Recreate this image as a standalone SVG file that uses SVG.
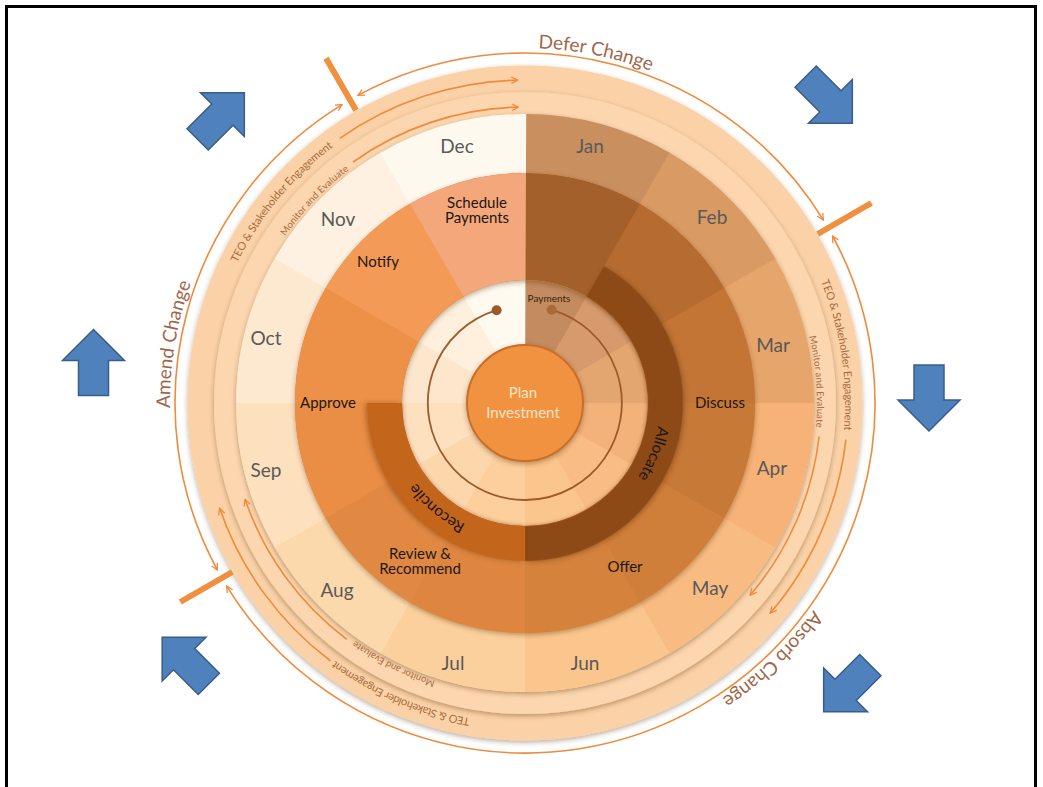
<svg xmlns="http://www.w3.org/2000/svg" width="1043" height="787" viewBox="0 0 1043 787">
  <defs>
    <style>
      text { font-family: Lato, "Open Sans", "Liberation Sans", sans-serif; }
      .mo { fill: none; stroke-width: 59; stroke-dasharray: 30.25 329.75; }
      .ac { fill: none; stroke-width: 107; stroke-dasharray: 30.25 329.75; }
      .in { fill: none; stroke-width: 65; stroke-dasharray: 30.25 329.75; }
      .bd { fill: none; stroke-width: 35; }
      .mlab { font-size: 19px; fill: #595959; text-anchor: middle; }
      .alab { font-size: 15px; fill: #1c1713; text-anchor: middle; }
      .blab { font-size: 15.5px; fill: #1c1713; }
      .ring-teo { font-size: 11px; fill: #a86b40; }
      .ring-mon { font-size: 9.5px; fill: #a86b40; }
      .chg { font-size: 19px; fill: #a0674a; }
      .line { fill: none; stroke: #f08a3c; stroke-width: 1.6; }
      .tick { stroke: #f0903f; stroke-width: 6; }
      .blue { fill: #4f81bd; stroke: #385d8a; stroke-width: 1.5; }
    </style>
    <filter id="ds" x="-20%" y="-20%" width="140%" height="140%">
      <feDropShadow dx="0" dy="2" stdDeviation="2.5" flood-color="#5a3010" flood-opacity="0.4"/>
    </filter>
    <marker id="ah" viewBox="0 0 10 10" refX="9" refY="5" markerWidth="8" markerHeight="8" markerUnits="userSpaceOnUse" orient="auto-start-reverse">
      <path d="M1,1 L9,5 L1,9" fill="none" stroke="#f08a3c" stroke-width="1.6"/>
    </marker>
    <!-- clockwise circles used as text baselines, all starting at 12 o'clock -->
    <path id="pOut" d="M525,48 A355,355 0 1 1 525,758 A355,355 0 1 1 525,48"/>
    <path id="pTeo" d="M525,83 A320,320 0 1 1 525,723 A320,320 0 1 1 525,83"/>
    <path id="pMon" d="M525,111 A292,292 0 1 1 525,695 A292,292 0 1 1 525,111"/>
    <path id="pBand" d="M525,268 A135,135 0 1 1 525,538 A135,135 0 1 1 525,268"/>
    <!-- block arrow pointing up, centred on the origin -->
    <path id="blk" d="M0,-33 L31,-2 L15,-2 L15,33 L-15,33 L-15,-2 L-31,-2 Z"/>
  </defs>

  <rect x="0" y="0" width="1043" height="787" fill="#ffffff"/>
  <rect x="6.5" y="6.5" width="1029" height="820" fill="none" stroke="#000000" stroke-width="3"/>

  <!-- outer rings -->
  <g id="ring-teo">
    <circle cx="525" cy="403" r="324" fill="none" stroke="#fbd2a7" stroke-width="27" filter="url(#ds)"/>
  </g>
  <g id="ring-monitor">
    <circle cx="525" cy="403" r="300" fill="none" stroke="#fcd6ae" stroke-width="22" filter="url(#ds)"/>
  </g>

  <!-- month ring -->
  <g id="months">
    <circle cx="525" cy="403" r="259.5" fill="none" stroke="#f6c08e" stroke-width="59" filter="url(#ds)"/>
    <g id="month-jan"><circle class="mo" cx="525" cy="403" r="259.5" pathLength="360" stroke="#c98f5f" transform="rotate(-90 525 403)"/><text class="mlab" x="590" y="153">Jan</text></g>
    <g id="month-feb"><circle class="mo" cx="525" cy="403" r="259.5" pathLength="360" stroke="#d99a63" transform="rotate(-60 525 403)"/><text class="mlab" x="712" y="224">Feb</text></g>
    <g id="month-mar"><circle class="mo" cx="525" cy="403" r="259.5" pathLength="360" stroke="#e6a56b" transform="rotate(-30 525 403)"/><text class="mlab" x="773" y="352">Mar</text></g>
    <g id="month-apr"><circle class="mo" cx="525" cy="403" r="259.5" pathLength="360" stroke="#f6b277" transform="rotate(0 525 403)"/><text class="mlab" x="772" y="475">Apr</text></g>
    <g id="month-may"><circle class="mo" cx="525" cy="403" r="259.5" pathLength="360" stroke="#f8bc82" transform="rotate(30 525 403)"/><text class="mlab" x="710" y="595">May</text></g>
    <g id="month-jun"><circle class="mo" cx="525" cy="403" r="259.5" pathLength="360" stroke="#fbc68d" transform="rotate(60 525 403)"/><text class="mlab" x="585" y="670">Jun</text></g>
    <g id="month-jul"><circle class="mo" cx="525" cy="403" r="259.5" pathLength="360" stroke="#fcd09c" transform="rotate(90 525 403)"/><text class="mlab" x="453" y="670">Jul</text></g>
    <g id="month-aug"><circle class="mo" cx="525" cy="403" r="259.5" pathLength="360" stroke="#fcd9ad" transform="rotate(120 525 403)"/><text class="mlab" x="337" y="597">Aug</text></g>
    <g id="month-sep"><circle class="mo" cx="525" cy="403" r="259.5" pathLength="360" stroke="#fde1bf" transform="rotate(150 525 403)"/><text class="mlab" x="266" y="477">Sep</text></g>
    <g id="month-oct"><circle class="mo" cx="525" cy="403" r="259.5" pathLength="360" stroke="#fde8d0" transform="rotate(180 525 403)"/><text class="mlab" x="266" y="345">Oct</text></g>
    <g id="month-nov"><circle class="mo" cx="525" cy="403" r="259.5" pathLength="360" stroke="#fef1e1" transform="rotate(210 525 403)"/><text class="mlab" x="338" y="226">Nov</text></g>
    <g id="month-dec"><circle class="mo" cx="525" cy="403" r="259.5" pathLength="360" stroke="#fef9ef" transform="rotate(240 525 403)"/><text class="mlab" x="457" y="153">Dec</text></g>
  </g>

  <!-- inner month ring around the centre -->
  <g id="inner-ring">
    <circle cx="525" cy="403" r="90.5" fill="none" stroke="#f6c594" stroke-width="65"/>
    <circle class="in" cx="525" cy="403" r="90.5" pathLength="360" stroke="#c38b5f" transform="rotate(-90 525 403)"/>
    <circle class="in" cx="525" cy="403" r="90.5" pathLength="360" stroke="#d69a6c" transform="rotate(-60 525 403)"/>
    <circle class="in" cx="525" cy="403" r="90.5" pathLength="360" stroke="#e4a670" transform="rotate(-30 525 403)"/>
    <circle class="in" cx="525" cy="403" r="90.5" pathLength="360" stroke="#f2b27a" transform="rotate(0 525 403)"/>
    <circle class="in" cx="525" cy="403" r="90.5" pathLength="360" stroke="#f8bc84" transform="rotate(30 525 403)"/>
    <circle class="in" cx="525" cy="403" r="90.5" pathLength="360" stroke="#fbc68e" transform="rotate(60 525 403)"/>
    <circle class="in" cx="525" cy="403" r="90.5" pathLength="360" stroke="#fccf9d" transform="rotate(90 525 403)"/>
    <circle class="in" cx="525" cy="403" r="90.5" pathLength="360" stroke="#fcd7ac" transform="rotate(120 525 403)"/>
    <circle class="in" cx="525" cy="403" r="90.5" pathLength="360" stroke="#fde0bd" transform="rotate(150 525 403)"/>
    <circle class="in" cx="525" cy="403" r="90.5" pathLength="360" stroke="#fde7cc" transform="rotate(180 525 403)"/>
    <circle class="in" cx="525" cy="403" r="90.5" pathLength="360" stroke="#fef0dd" transform="rotate(210 525 403)"/>
    <circle class="in" cx="525" cy="403" r="90.5" pathLength="360" stroke="#fefaf0" transform="rotate(240 525 403)"/>
  </g>

  <!-- activity ring -->
  <circle cx="525" cy="403" r="176.5" fill="none" stroke="#d27f3b" stroke-width="107" filter="url(#ds)"/>
  <g id="act-jan"><circle class="ac" cx="525" cy="403" r="176.5" pathLength="360" stroke="#a3602a" transform="rotate(-90 525 403)"/></g>
  <g id="act-feb"><circle class="ac" cx="525" cy="403" r="176.5" pathLength="360" stroke="#b66c31" transform="rotate(-60 525 403)"/></g>
  <g id="act-discuss">
    <circle class="ac" cx="525" cy="403" r="176.5" pathLength="360" stroke="#c37536" transform="rotate(-30 525 403)"/>
    <circle class="ac" cx="525" cy="403" r="176.5" pathLength="360" stroke="#c77938" transform="rotate(0 525 403)"/>
    <text class="alab" x="720" y="408">Discuss</text>
  </g>
  <g id="act-offer">
    <circle class="ac" cx="525" cy="403" r="176.5" pathLength="360" stroke="#d07f3b" transform="rotate(30 525 403)"/>
    <circle class="ac" cx="525" cy="403" r="176.5" pathLength="360" stroke="#d4823c" transform="rotate(60 525 403)"/>
    <text class="alab" x="625" y="572">Offer</text>
  </g>
  <g id="act-review">
    <circle class="ac" cx="525" cy="403" r="176.5" pathLength="360" stroke="#de8640" transform="rotate(90 525 403)"/>
    <circle class="ac" cx="525" cy="403" r="176.5" pathLength="360" stroke="#e18943" transform="rotate(120 525 403)"/>
    <text class="alab" x="420" y="559">Review &amp;</text>
    <text class="alab" x="420" y="574">Recommend</text>
  </g>
  <g id="act-approve">
    <circle class="ac" cx="525" cy="403" r="176.5" pathLength="360" stroke="#ea8e45" transform="rotate(150 525 403)"/>
    <circle class="ac" cx="525" cy="403" r="176.5" pathLength="360" stroke="#ed9148" transform="rotate(180 525 403)"/>
    <text class="alab" x="328" y="408">Approve</text>
  </g>
  <g id="act-notify">
    <circle class="ac" cx="525" cy="403" r="176.5" pathLength="360" stroke="#f29a56" transform="rotate(210 525 403)"/>
    <text class="alab" x="378" y="267">Notify</text>
  </g>
  <g id="act-schedule">
    <circle class="ac" cx="525" cy="403" r="176.5" pathLength="360" stroke="#f4a77b" transform="rotate(240 525 403)"/>
    <text class="alab" x="477" y="208">Schedule</text>
    <text class="alab" x="477" y="223">Payments</text>
  </g>

  <!-- inner bands -->
  <g id="band-allocate">
    <circle class="bd" cx="525" cy="403" r="140.5" pathLength="360" stroke="#8d4a17" stroke-dasharray="150 210" transform="rotate(-60 525 403)" filter="url(#ds)"/>
    <text class="blab"><textPath href="#pBand" startOffset="31%" text-anchor="middle">Allocate</textPath></text>
  </g>
  <g id="band-reconcile">
    <circle class="bd" cx="525" cy="403" r="140.5" pathLength="360" stroke="#c4651f" stroke-dasharray="90 270" transform="rotate(90 525 403)" filter="url(#ds)"/>
    <text class="blab"><textPath href="#pBand" startOffset="61.1%" text-anchor="middle">Reconcile</textPath></text>
  </g>

  <!-- centre -->
  <g id="plan-investment">
    <circle cx="525" cy="403" r="58" fill="#f19240" stroke="#c8702c" stroke-width="2" filter="url(#ds)"/>
    <text x="523" y="398" font-size="15" fill="#fde4c8" text-anchor="middle">Plan</text>
    <text x="523" y="418" font-size="15" fill="#fde4c8" text-anchor="middle">Investment</text>
  </g>
  <g id="payments-label">
    <text x="549" y="301.5" font-size="10" fill="#3a2410" text-anchor="middle">Payments</text>
  </g>

  <!-- ring captions -->
  <g id="ring-labels">
    <text class="ring-teo"><textPath href="#pTeo" startOffset="85.99%" text-anchor="middle" textLength="152" lengthAdjust="spacing">TEO &amp; Stakeholder Engagement</textPath></text>
    <text class="ring-teo"><textPath href="#pTeo" startOffset="22.57%" text-anchor="middle" textLength="152" lengthAdjust="spacing">TEO &amp; Stakeholder Engagement</textPath></text>
    <text class="ring-teo"><textPath href="#pTeo" startOffset="56.43%" text-anchor="middle" textLength="148" lengthAdjust="spacing">TEO &amp; Stakeholder Engagement</textPath></text>
    <text class="ring-mon"><textPath href="#pMon" startOffset="87.19%" text-anchor="middle" textLength="92" lengthAdjust="spacing">Monitor and Evaluate</textPath></text>
    <text class="ring-mon"><textPath href="#pMon" startOffset="23.83%" text-anchor="middle" textLength="92" lengthAdjust="spacing">Monitor and Evaluate</textPath></text>
    <text class="ring-mon"><textPath href="#pMon" startOffset="57.43%" text-anchor="middle" textLength="90" lengthAdjust="spacing">Monitor and Evaluate</textPath></text>
  </g>

  <!-- change labels outside the cycle -->
  <g id="defer-change"><text class="chg"><textPath href="#pOut" startOffset="3.18%" text-anchor="middle">Defer Change</textPath></text></g>
  <g id="absorb-change"><text class="chg"><textPath href="#pOut" startOffset="37.78%" text-anchor="middle">Absorb Change</textPath></text></g>
  <g id="amend-change"><text class="chg"><textPath href="#pOut" startOffset="77.64%" text-anchor="middle">Amend Change</textPath></text></g>

  <!-- connectors -->
  <g id="connectors">
    <!-- outer phase arcs, r=350 -->
    <path class="line" d="M217.4,570 A350,350 0 0 1 342.1,104.6" marker-start="url(#ah)" marker-end="url(#ah)"/>
    <path class="line" d="M358,95.4 A350,350 0 0 1 823.4,220.1" marker-start="url(#ah)" marker-end="url(#ah)"/>
    <path class="line" d="M832.6,236 A350,350 0 0 1 226.6,585.9" marker-start="url(#ah)" marker-end="url(#ah)"/>
    <!-- phase dividers -->
    <line class="tick" x1="356" y1="110.3" x2="326" y2="58.3"/>
    <line class="tick" x1="817.7" y1="234" x2="871.4" y2="203"/>
    <line class="tick" x1="232.3" y1="572" x2="180.3" y2="602"/>
    <!-- ring flow arrows -->
    <path class="line" d="M339.7,138.4 A323,323 0 0 1 517.7,80.1" marker-end="url(#ah)"/>
    <path class="line" d="M353.1,162 A296,296 0 0 1 518.3,107.1" marker-end="url(#ah)"/>
    <path class="line" d="M845.9,439.6 A323,323 0 0 1 770.2,613.2" marker-end="url(#ah)"/>
    <path class="line" d="M819.1,436.5 A296,296 0 0 1 750.1,595.2" marker-end="url(#ah)"/>
    <path class="line" d="M330.6,661 A323,323 0 0 1 219.6,508.2" marker-end="url(#ah)"/>
    <path class="line" d="M346.9,639.4 A296,296 0 0 1 245.1,499.4" marker-end="url(#ah)"/>
    <!-- payment cycle inside the centre ring -->
    <path d="M551.7,309.8 A97,97 0 1 1 496.6,310.2" fill="none" stroke="#9e5a2a" stroke-width="1.8"/>
    <circle cx="551.7" cy="309.8" r="5" fill="#a86a3a"/>
    <circle cx="496.6" cy="310.2" r="5" fill="#9a5a2c"/>
  </g>

  <!-- direction arrows -->
  <g id="arrow-nw"><use href="#blk" class="blue" transform="translate(221 116) rotate(45)"/></g>
  <g id="arrow-ne"><use href="#blk" class="blue" transform="translate(829 100) rotate(135)"/></g>
  <g id="arrow-w"><use href="#blk" class="blue" transform="translate(93.5 362.5)"/></g>
  <g id="arrow-e"><use href="#blk" class="blue" transform="translate(929 398) rotate(180)"/></g>
  <g id="arrow-sw"><use href="#blk" class="blue" transform="translate(185.5 660.5) rotate(-45)"/></g>
  <g id="arrow-se"><use href="#blk" class="blue" transform="translate(847 688.5) rotate(225)"/></g>
</svg>
